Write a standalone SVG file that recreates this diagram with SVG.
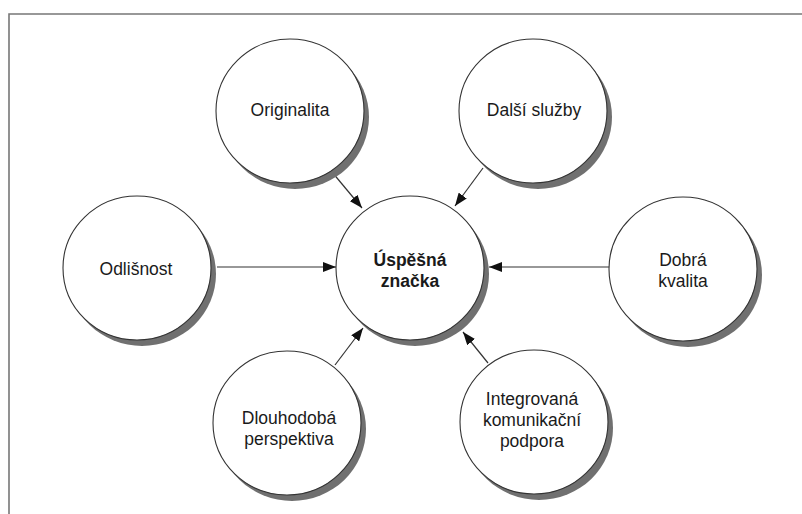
<svg xmlns="http://www.w3.org/2000/svg" width="802" height="514" viewBox="0 0 802 514">
<style>
.sh{fill:#707070;stroke:none}
.nd{fill:#fff;stroke:#333;stroke-width:1.1}
.t{font-family:"Liberation Sans",Arial,sans-serif;font-size:17.5px;fill:#1a1a1a;text-anchor:middle}
.b{font-weight:bold}
.c{stroke:#333;stroke-width:1.2;fill:none;marker-end:url(#ah)}
</style>
<defs>
<marker id="ah" viewBox="0 0 13 10" refX="13" refY="5" markerWidth="13" markerHeight="10" markerUnits="userSpaceOnUse" orient="auto">
<path d="M0,0 L13,5 L0,10 z" fill="#111"/>
</marker>
</defs>
<rect width="802" height="514" fill="#fff"/>
<path d="M9,514 V14 H802" fill="none" stroke="#777" stroke-width="1.6"/>
<g id="connectors">
<line class="c" x1="332" y1="172" x2="362" y2="208"/>
<line class="c" x1="483" y1="168" x2="455" y2="206"/>
<line class="c" x1="217" y1="267" x2="336" y2="267"/>
<line class="c" x1="610" y1="267" x2="489" y2="267"/>
<line class="c" x1="335" y1="365" x2="363" y2="328"/>
<line class="c" x1="488" y1="363" x2="463" y2="332"/>
</g>
<g id="originalita">
<ellipse class="sh" cx="295" cy="117" rx="74" ry="72"/>
<ellipse class="nd" cx="290" cy="111" rx="74" ry="72"/>
<text class="t" x="290" y="116">Originalita</text>
</g>
<g id="dalsi-sluzby">
<ellipse class="sh" cx="538" cy="117" rx="74" ry="72"/>
<ellipse class="nd" cx="533" cy="111" rx="74" ry="72"/>
<text class="t" x="534" y="116">Další služby</text>
</g>
<g id="odlisnost">
<ellipse class="sh" cx="142" cy="274" rx="74" ry="72"/>
<ellipse class="nd" cx="137" cy="268" rx="74" ry="72"/>
<text class="t" x="136" y="275">Odlišnost</text>
</g>
<g id="uspesna-znacka">
<ellipse class="sh" cx="415" cy="274" rx="74" ry="72"/>
<ellipse class="nd" cx="410" cy="268" rx="74" ry="72"/>
<text class="t b" x="410" y="266">Úspěšná</text>
<text class="t b" x="410" y="287">značka</text>
</g>
<g id="dobra-kvalita">
<ellipse class="sh" cx="688" cy="275" rx="74" ry="72"/>
<ellipse class="nd" cx="683" cy="269" rx="74" ry="72"/>
<text class="t" x="683" y="266">Dobrá</text>
<text class="t" x="683" y="287">kvalita</text>
</g>
<g id="dlouhodoba-perspektiva">
<ellipse class="sh" cx="292" cy="429" rx="74" ry="72"/>
<ellipse class="nd" cx="287" cy="423" rx="74" ry="72"/>
<text class="t" x="289" y="424">Dlouhodobá</text>
<text class="t" x="289" y="445">perspektiva</text>
</g>
<g id="integrovana-podpora">
<ellipse class="sh" cx="539" cy="428" rx="74" ry="72"/>
<ellipse class="nd" cx="534" cy="422" rx="74" ry="72"/>
<text class="t" x="532" y="405">Integrovaná</text>
<text class="t" x="532" y="426">komunikační</text>
<text class="t" x="532" y="447">podpora</text>
</g>
</svg>
